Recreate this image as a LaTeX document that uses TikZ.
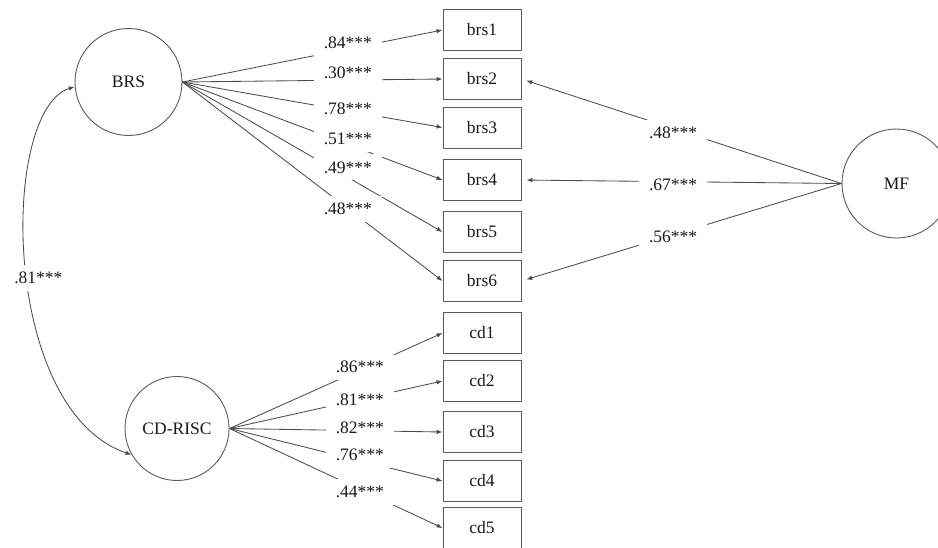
\documentclass[tikz,border=0pt]{standalone}
\usepackage{fontspec}
\setmainfont{Liberation Serif}
\usetikzlibrary{arrows.meta}

\begin{document}
\begin{tikzpicture}[x=1pt,y=-1pt,font=\fontsize{17.5}{21}\selectfont,line cap=round,line join=round,>={Latex[length=6pt,width=4.5pt]},
		latent/.style={draw=black!65,line width=.9pt,circle,minimum size=107pt,inner sep=0pt,text=black!90},
		obs/.style={draw=black!65,line width=.9pt,rectangle,minimum width=78pt,minimum height=41pt,inner sep=0pt,text=black!90},
		lbl/.style={fill=white,inner xsep=10pt,inner ysep=7pt,text=black!90},
		link/.style={draw=black!70,line width=.85pt}]
		\useasboundingbox (0,0) rectangle (938,547);
		% latent factors
		\node[latent] (BRS) at (128.5,82) {BRS};
		\node[latent,minimum size=104pt] (CDRISC) at (177,428.5) {CD-RISC};
		\node[latent,minimum size=109pt] (MF) at (896.5,183.5) {MF};
		% indicators
		\node[obs] (brs1) at (482,30) {brs1};
		\node[obs] (brs2) at (482,79) {brs2};
		\node[obs] (brs3) at (482,127.5) {brs3};
		\node[obs] (brs4) at (482,180) {brs4};
		\node[obs] (brs5) at (482,232) {brs5};
		\node[obs] (brs6) at (482,281) {brs6};
		\node[obs] (cd1) at (482,333) {cd1};
		\node[obs] (cd2) at (482,381) {cd2};
		\node[obs] (cd3) at (482,432) {cd3};
		\node[obs] (cd4) at (482,481) {cd4};
		\node[obs] (cd5) at (482,528) {cd5};
		% BRS loadings
		\draw[link,->] (BRS.east)--node[lbl,pos=.636,yshift=6pt]{.84***}(brs1.west);
		\draw[link,->] (BRS.east)--node[lbl,pos=.636,yshift=7pt]{.30***}(brs2.west);
		\draw[link,->] (BRS.east)--node[lbl,pos=.636,yshift=2pt]{.78***}(brs3.west);
		\draw[link,->] (BRS.east)--node[lbl,pos=.636,yshift=5pt]{.51***}(brs4.west);
		\draw[link,->] (BRS.east)--node[lbl,pos=.636,yshift=10pt]{.49***}(brs5.west);
		\draw[link,->] (BRS.east)--node[lbl,pos=.636]{.48***}(brs6.west);
		% CD-RISC loadings
		\draw[link,->] (CDRISC.east)--node[lbl,pos=.612,yshift=3pt]{.86***}(cd1.west);
		\draw[link,->] (CDRISC.east)--node[lbl,pos=.612]{.81***}(cd2.west);
		\draw[link,->] (CDRISC.east)--node[lbl,pos=.612,yshift=2.5pt]{.82***}(cd3.west);
		\draw[link,->] (CDRISC.east)--node[lbl,pos=.612,yshift=5.5pt]{.76***}(cd4.west);
		\draw[link,->] (CDRISC.east)--node[lbl,pos=.612,yshift=-2.5pt]{.44***}(cd5.west);
		% method factor
		\draw[link,->,shorten >=5pt] (MF.west)--node[lbl,pos=.526,yshift=-4.5pt]{.48***}(brs2.east);
		\draw[link,->,shorten >=5pt] (MF.west)--node[lbl,pos=.526,yshift=-3pt]{.67***}(brs4.east);
		\draw[link,->,shorten >=5pt] (MF.west)--node[lbl,pos=.526,yshift=-2pt]{.56***}(brs6.east);
		% correlation
		\draw[link,<->] (BRS.185) .. controls (0,110) and (0,410) .. node[lbl,pos=.53,xshift=11pt]{.81***} (CDRISC.210);
	\end{tikzpicture}
\end{document}
